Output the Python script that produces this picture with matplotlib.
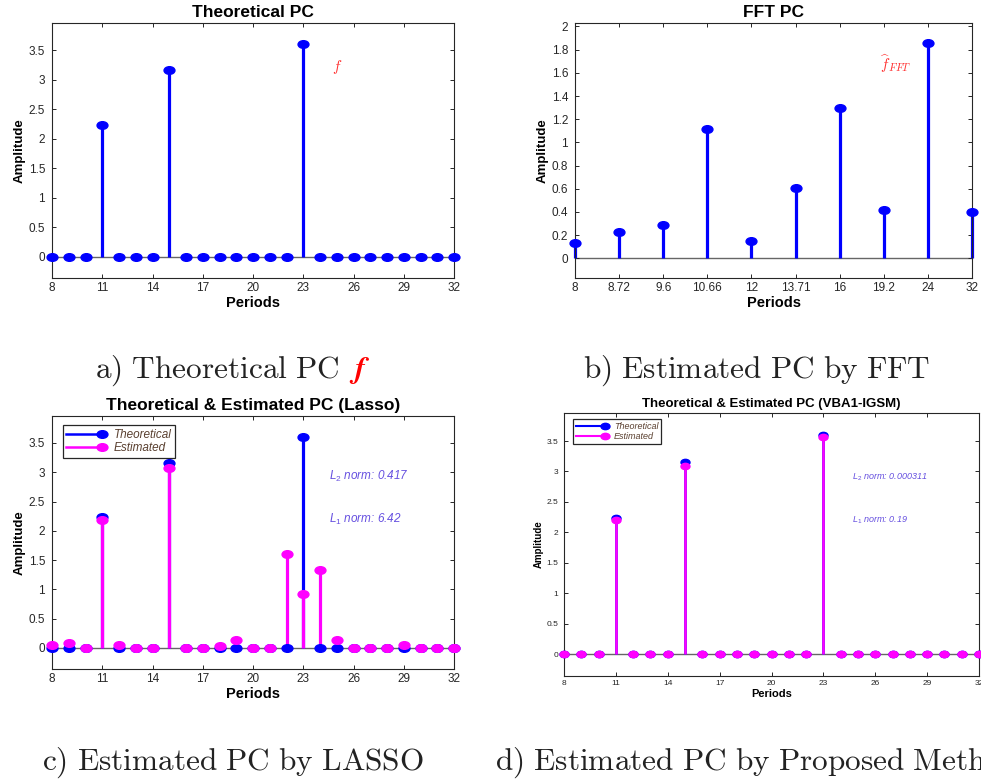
import numpy as np
import matplotlib
matplotlib.use("Agg")
import matplotlib.pyplot as plt
from matplotlib.lines import Line2D
from matplotlib.legend_handler import HandlerLine2D
from matplotlib.markers import MarkerStyle
from matplotlib.transforms import Affine2D

plt.rcParams["font.family"] = ["Liberation Sans", "DejaVu Sans"]
plt.rcParams["mathtext.fontset"] = "custom"
plt.rcParams["mathtext.rm"] = "Liberation Sans"
plt.rcParams["mathtext.it"] = "Liberation Sans:italic"

# data
periods = list(range(8, 33))
theo_peaks = {11: 2.236, 15: 3.162, 23: 3.606}
theoretical = [theo_peaks.get(p, 0.0) for p in periods]

fft_labels = ["8", "8.72", "9.6", "10.66", "12", "13.71", "16", "19.2", "24", "32"]
fft_amp = [0.132, 0.23, 0.285, 1.117, 0.153, 0.607, 1.295, 0.417, 1.859, 0.40]

lasso_est = [0.057, 0.086, 0.0, 2.176, 0.057, 0.0, 0.0, 3.07, 0.0, 0.0, 0.04, 0.143,
             0.0, 0.0, 1.61, 0.914, 1.33, 0.143, 0.0, 0.0, 0.0, 0.057, 0.0, 0.0, 0.0]
vba_peaks = {11: 2.208, 15: 3.086, 23: 3.566}
vba_est = [vba_peaks.get(p, 0.0) for p in periods]

lasso_norms = ["0.417", "6.42"]
vba_norms = ["0.000311", "0.19"]

BLUE = "#0000ff"
MAG = "#ff00ff"
FRAME = "#262626"
NORM_COL = "#6650e0"
LEG_TXT = "#5a4030"

W, H = 981, 780
fig = plt.figure(figsize=(W / 100, H / 100), dpi=100)


def add_ax(x0, y0, x1, y1):
    return fig.add_axes([x0 / W, 1 - y1 / H, (x1 - x0) / W, (y1 - y0) / H])


def ell(sx=1.35, sy=0.95):
    return MarkerStyle("o", transform=Affine2D().scale(sx, sy))


def stem(ax, x, y, color, lw, ms):
    ml, sl, bl = ax.stem(x, y)
    ml.set_color(color)
    ml.set_marker(ell())
    ml.set_markersize(ms)
    ml.set_clip_on(False)
    ml.set_zorder(3)
    sl.set_color(color)
    sl.set_linewidth(lw)
    sl.set_clip_on(False)
    bl.set_visible(False)


def style(ax, tick_fs, label_fs, title, title_fs, ypad=5):
    for s in ax.spines.values():
        s.set_color(FRAME)
        s.set_linewidth(0.8)
    ax.tick_params(direction="in", top=True, right=True, length=3, width=0.7,
                   colors=FRAME, labelsize=tick_fs, pad=3)
    ax.tick_params(axis="y", pad=ypad)
    ax.axhline(0, color="#666666", lw=1, zorder=1)
    ax.set_xlabel("Periods", fontweight="bold", fontsize=label_fs, labelpad=1)
    ax.set_ylabel("Amplitude", fontweight="bold", fontsize=label_fs - 1, labelpad=2)
    ax.set_title(title, fontweight="bold", fontsize=title_fs, pad=4)


class EndMarkerHandler(HandlerLine2D):
    def create_artists(self, *args, **kwargs):
        arts = super().create_artists(*args, **kwargs)
        arts[0].set_markevery([2])
        return arts


def add_legend(ax, anchor, fs, lw, ms, hl):
    handles = [Line2D([], [], color=BLUE, lw=lw, marker=ell(), ms=ms),
               Line2D([], [], color=MAG, lw=lw, marker=ell(), ms=ms)]
    leg = ax.legend(handles, ["Theoretical", "Estimated"], loc="upper left",
                    bbox_to_anchor=anchor, borderaxespad=0, numpoints=1,
                    handlelength=hl, handletextpad=1.0, labelspacing=0.15,
                    fontsize=fs, fancybox=False, framealpha=1,
                    edgecolor=FRAME, borderpad=0.3,
                    handler_map={Line2D: EndMarkerHandler()})
    leg.get_frame().set_linewidth(0.9)
    for t in leg.get_texts():
        t.set_color(LEG_TXT)
        t.set_fontstyle("italic")


yticks = np.arange(0, 3.6, 0.5)
ytl = ["0", "0.5", "1", "1.5", "2", "2.5", "3", "3.5"]
xticks = list(range(8, 33, 3))

# a) theoretical
ax = add_ax(52, 23, 454, 278)
stem(ax, periods, theoretical, BLUE, 2.3, 5.8)
ax.set_xlim(8, 32)
ax.set_ylim(-0.36, 3.96)
ax.set_xticks(xticks)
ax.set_yticks(yticks, ytl)
style(ax, 8.5, 10.5, "Theoretical PC", 12.5)
ax.text(25, 3.22, r"$f$", color="#ff3030", fontsize=11, math_fontfamily="cm",
        ha="center", va="center")

# b) FFT
ax = add_ax(575, 23, 972, 278)
xpos = np.arange(1, len(fft_amp) + 1)
stem(ax, xpos, fft_amp, BLUE, 2.3, 5.8)
ax.set_xlim(1, len(fft_amp))
ax.set_ylim(-0.17, 2.03)
ax.set_xticks(xpos, fft_labels)
ax.set_yticks(np.arange(0, 2.01, 0.2),
              ["0", "0.2", "0.4", "0.6", "0.8", "1", "1.2", "1.4", "1.6", "1.8", "2"])
style(ax, 8.5, 10.5, "FFT PC", 12.5)
ax.text(8.28, 1.68, r"$\widehat{f}_{FFT}$", color="#ff3030", fontsize=11,
        math_fontfamily="cm", ha="center", va="center")

# c) Lasso
ax = add_ax(52, 416, 454, 669)
stem(ax, periods, theoretical, BLUE, 2.3, 5.8)
stem(ax, periods, lasso_est, MAG, 2.3, 5.8)
ax.set_xlim(8, 32)
ax.set_ylim(-0.36, 3.96)
ax.set_xticks(xticks)
ax.set_yticks(yticks, ytl)
style(ax, 8.5, 10.5, "Theoretical & Estimated PC (Lasso)", 12.5)
add_legend(ax, (0.027, 0.964), 8.5, 1.8, 5.8, 3.0)
ax.text(24.54, 2.92, r"$L_2$ norm: " + lasso_norms[0], color=NORM_COL,
        fontstyle="italic", fontsize=8.5, ha="left", va="center")
ax.text(24.54, 2.20, r"$L_1$ norm: " + lasso_norms[1], color=NORM_COL,
        fontstyle="italic", fontsize=8.5, ha="left", va="center")

# d) VBA1-IGSM
ax = add_ax(564, 413, 979, 676)
stem(ax, periods, theoretical, BLUE, 1.8, 4.8)
stem(ax, periods, vba_est, MAG, 1.8, 4.8)
ax.set_xlim(8, 32)
ax.set_ylim(-0.36, 3.96)
ax.set_xticks(xticks)
ax.set_yticks(yticks, ytl)
style(ax, 6, 8, "Theoretical & Estimated PC (VBA1-IGSM)", 9.5, ypad=4)
add_legend(ax, (0.022, 0.977), 6.5, 1.5, 4.8, 3.2)
ax.text(24.66, 2.91, r"$L_2$ norm: " + vba_norms[0], color=NORM_COL,
        fontstyle="italic", fontsize=6.5, ha="left", va="center")
ax.text(24.66, 2.20, r"$L_1$ norm: " + vba_norms[1], color=NORM_COL,
        fontstyle="italic", fontsize=6.5, ha="left", va="center")

# captions (panel d caption runs past the right edge, as in the reference)
cap_fs = 22.5
t1 = fig.text(95 / W, 1 - 378 / H, r"$\mathrm{a)\ Theoretical\ PC}$", fontsize=cap_fs,
              math_fontfamily="cm", ha="left", va="baseline", color="#222222")
fig.text(583 / W, 1 - 378 / H, r"$\mathrm{b)\ Estimated\ PC\ by\ FFT}$", fontsize=cap_fs,
         math_fontfamily="cm", ha="left", va="baseline", color="#222222")
fig.text(42 / W, 1 - 770 / H, r"$\mathrm{c)\ Estimated\ PC\ by\ LASSO}$", fontsize=cap_fs,
         math_fontfamily="cm", ha="left", va="baseline", color="#222222")
fig.text(495 / W, 1 - 770 / H, r"$\mathrm{d)\ Estimated\ PC\ by\ Proposed\ Method}$",
         fontsize=cap_fs, math_fontfamily="cm", ha="left", va="baseline", color="#222222")

fig.canvas.draw()
bb = t1.get_window_extent()
fig.text((bb.x1 + 10) / W, 1 - 378 / H, r"$\boldsymbol{f}$", fontsize=cap_fs,
         math_fontfamily="cm", ha="left", va="baseline", color="#ff0000")

fig.savefig("out.png", dpi=100)
